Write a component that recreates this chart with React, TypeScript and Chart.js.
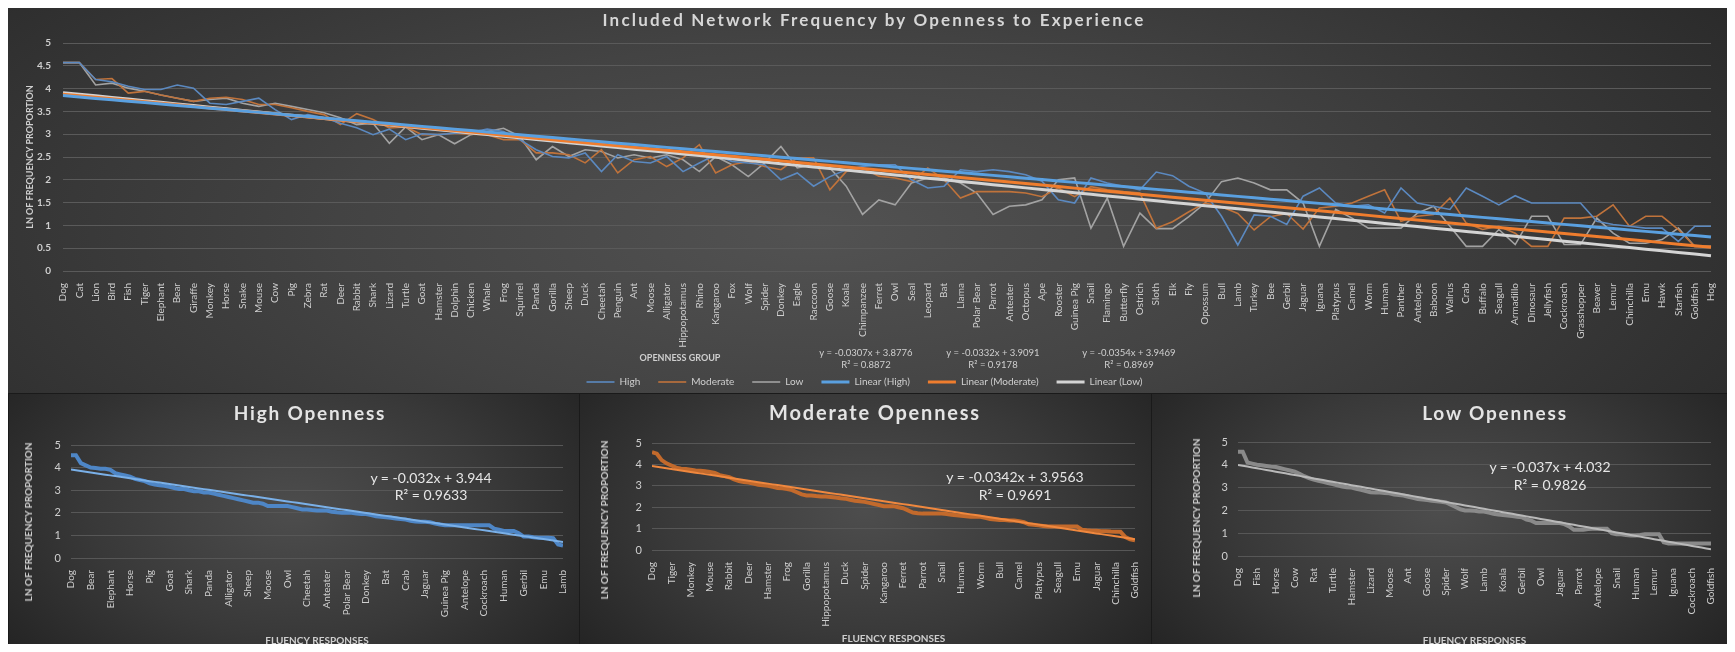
import React, { useEffect, useRef } from 'react';
import { Chart, registerables } from 'chart.js';

Chart.register(...registerables);

const FONT = 'Lato, "Liberation Sans", sans-serif';

// ---------------- Top chart data ----------------
const animals = ['Dog','Cat','Lion','Bird','Fish','Tiger','Elephant','Bear','Giraffe','Monkey','Horse','Snake','Mouse','Cow','Pig','Zebra','Rat','Deer','Rabbit','Shark','Lizard','Turtle','Goat','Hamster','Dolphin','Chicken','Whale','Frog','Squirrel','Panda','Gorilla','Sheep','Duck','Cheetah','Penguin','Ant','Moose','Alligator','Hippopotamus','Rhino','Kangaroo','Fox','Wolf','Spider','Donkey','Eagle','Raccoon','Goose','Koala','Chimpanzee','Ferret','Owl','Seal','Leopard','Bat','Llama','Polar Bear','Parrot','Anteater','Octopus','Ape','Rooster','Guinea Pig','Snail','Flamingo','Butterfly','Ostrich','Sloth','Elk','Fly','Opossum','Bull','Lamb','Turkey','Bee','Gerbil','Jaguar','Iguana','Platypus','Camel','Worm','Human','Panther','Antelope','Baboon','Walrus','Crab','Buffalo','Seagull','Armadillo','Dinosaur','Jellyfish','Cockroach','Grasshopper','Beaver','Lemur','Chinchilla','Emu','Hawk','Starfish','Goldfish','Hog'];

const highValues = [4.57,4.57,4.2,4.15,4.05,3.98,3.98,4.08,4.01,3.68,
  3.65,3.72,3.79,3.54,3.32,3.43,3.36,3.24,3.14,2.99,
  3.11,2.88,3.01,2.99,3.02,3.04,3.11,3.06,2.88,2.66,
  2.51,2.48,2.59,2.18,2.55,2.40,2.37,2.51,2.18,2.37,
  2.55,2.40,2.37,2.33,2.00,2.15,1.86,2.07,2.22,2.29,
  2.33,2.33,2.00,1.82,1.86,2.22,2.18,2.22,2.18,2.11,
  1.97,1.56,1.49,2.04,1.93,1.86,1.78,2.17,2.09,1.86,
  1.71,1.20,0.57,1.23,1.20,1.02,1.64,1.82,1.49,1.42,
  1.45,1.27,1.82,1.49,1.42,1.35,1.82,1.64,1.45,1.65,
  1.49,1.49,1.49,1.49,1.09,1.02,0.98,0.94,0.94,0.65,
  0.98,0.98];

const moderateValues = [4.57,4.57,4.2,4.22,3.9,3.94,3.86,3.79,3.72,3.79,
  3.81,3.76,3.65,3.65,3.58,3.50,3.43,3.21,3.45,3.32,
  3.14,3.16,2.99,2.99,3.02,3.0,2.99,2.88,2.88,2.59,
  2.59,2.55,2.37,2.66,2.15,2.44,2.51,2.29,2.48,2.77,
  2.15,2.33,2.40,2.29,2.22,2.48,2.48,1.78,2.18,2.26,
  2.08,2.04,1.96,2.26,2.00,1.60,1.74,1.74,1.74,1.71,
  1.63,1.82,1.63,1.85,1.78,1.74,1.71,0.94,1.08,1.30,
  1.49,1.41,1.26,0.90,1.19,1.26,0.92,1.38,1.42,1.49,
  1.64,1.78,1.09,1.20,1.24,1.60,1.05,0.91,0.98,0.83,
  0.54,0.54,1.16,1.16,1.20,1.45,0.98,1.20,1.20,0.91,
  0.54,0.54];

const lowValues = [4.57,4.57,4.08,4.12,4.01,3.94,3.86,3.79,3.72,3.76,
  3.79,3.68,3.61,3.68,3.61,3.54,3.47,3.36,3.21,3.24,
  2.80,3.16,2.88,2.99,2.79,2.99,3.06,3.13,2.95,2.44,
  2.73,2.51,2.66,2.62,2.48,2.55,2.48,2.55,2.44,2.18,
  2.51,2.33,2.07,2.37,2.73,2.26,2.33,2.26,1.86,1.24,
  1.56,1.45,1.93,2.04,2.04,1.93,1.71,1.24,1.42,1.45,
  1.56,2.00,2.04,0.94,1.60,0.54,1.27,0.93,0.93,1.19,
  1.49,1.96,2.04,1.93,1.78,1.78,1.49,0.54,1.35,1.16,
  0.94,0.94,0.94,1.27,1.42,0.98,0.54,0.54,0.91,0.58,
  1.20,1.20,0.58,0.58,1.16,0.83,0.61,0.61,0.69,0.94,
  0.54,0.54];

// Trendline coefficients shown on the chart
const highTrend = { slope: -0.0307, intercept: 3.8776, eq: 'y = -0.0307x + 3.8776', r2: 'R² = 0.8872' };
const moderateTrend = { slope: -0.0332, intercept: 3.9091, eq: 'y = -0.0332x + 3.9091', r2: 'R² = 0.9178' };
const lowTrend = { slope: -0.0354, intercept: 3.9469, eq: 'y = -0.0354x + 3.9469', r2: 'R² = 0.8969' };

const yTicks = [0, 0.5, 1, 1.5, 2, 2.5, 3, 3.5, 4, 4.5, 5];

// ---------------- Small charts data ----------------
const highSortedLabels = ['Dog','Bear','Elephant','Horse','Pig','Goat','Shark','Panda','Alligator','Sheep','Moose','Owl','Cheetah','Anteater','Polar Bear','Donkey','Bat','Crab','Jaguar','Guinea Pig','Antelope','Cockroach','Human','Gerbil','Emu','Lamb'];
const highSortedValues = [4.55,4.55,4.2,4.1,4.0,3.98,3.95,3.95,3.9,3.75,
  3.7,3.65,3.6,3.5,3.45,3.4,3.3,3.25,3.22,3.2,
  3.15,3.1,3.05,3.05,3.0,2.95,2.95,2.9,2.9,2.85,
  2.8,2.75,2.7,2.65,2.6,2.55,2.5,2.45,2.45,2.4,
  2.3,2.3,2.3,2.3,2.3,2.25,2.2,2.15,2.15,2.12,
  2.1,2.1,2.1,2.05,2.02,2.0,2.0,2.0,1.97,1.95,
  1.95,1.9,1.85,1.82,1.8,1.78,1.75,1.72,1.7,1.65,
  1.62,1.6,1.6,1.58,1.52,1.48,1.45,1.45,1.45,1.45,
  1.45,1.45,1.45,1.45,1.45,1.45,1.3,1.25,1.2,1.2,
  1.2,1.1,0.95,0.95,0.92,0.9,0.9,0.9,0.88,0.6,
  0.55];

const moderateSortedLabels = ['Dog','Tiger','Monkey','Mouse','Rabbit','Deer','Hamster','Frog','Gorilla','Hippopotamus','Duck','Spider','Kangaroo','Ferret','Parrot','Snail','Human','Worm','Bull','Camel','Platypus','Seagull','Emu','Jaguar','Chinchilla','Goldfish'];
const moderateSortedValues = [4.57,4.5,4.2,4.05,3.95,3.85,3.8,3.78,3.75,3.72,
  3.7,3.68,3.65,3.6,3.5,3.45,3.4,3.3,3.22,3.18,
  3.15,3.1,3.05,3.02,3.0,2.95,2.9,2.88,2.85,2.8,
  2.7,2.6,2.55,2.55,2.52,2.5,2.5,2.48,2.45,2.42,
  2.4,2.35,2.3,2.28,2.25,2.2,2.15,2.1,2.05,2.05,
  2.05,2.0,1.95,1.85,1.75,1.72,1.7,1.7,1.7,1.7,
  1.7,1.68,1.65,1.62,1.6,1.58,1.55,1.55,1.55,1.5,
  1.45,1.42,1.4,1.4,1.38,1.38,1.35,1.3,1.2,1.18,
  1.15,1.12,1.1,1.1,1.1,1.1,1.1,1.1,1.1,0.95,
  0.92,0.9,0.9,0.88,0.88,0.86,0.85,0.85,0.6,0.5,
  0.45];

const lowSortedLabels = ['Dog','Fish','Horse','Cow','Rat','Turtle','Hamster','Lizard','Moose','Ant','Goose','Spider','Wolf','Lamb','Koala','Gerbil','Owl','Jaguar','Parrot','Antelope','Snail','Human','Lemur','Iguana','Cockroach','Goldfish'];
const lowSortedValues = [4.57,4.57,4.1,4.05,4.0,3.98,3.95,3.92,3.9,3.85,
  3.8,3.75,3.7,3.6,3.5,3.42,3.35,3.3,3.25,3.2,
  3.15,3.1,3.05,3.02,3.0,2.95,2.9,2.85,2.8,2.78,
  2.78,2.76,2.75,2.7,2.68,2.65,2.6,2.55,2.5,2.48,
  2.45,2.42,2.4,2.38,2.35,2.25,2.15,2.05,2.0,2.0,
  1.98,1.95,1.95,1.9,1.85,1.82,1.8,1.78,1.75,1.72,
  1.7,1.6,1.55,1.45,1.45,1.45,1.45,1.45,1.45,1.4,
  1.3,1.15,1.15,1.15,1.18,1.2,1.2,1.2,1.2,1.0,
  0.95,0.95,0.92,0.9,0.9,0.92,0.95,0.95,0.95,0.95,
  0.6,0.55,0.55,0.55,0.55,0.55,0.55,0.55,0.55,0.55,
  0.55];

const highSmallTrend = { slope: -0.032, intercept: 3.944, eq: 'y = -0.032x + 3.944', r2: 'R² = 0.9633' };
const moderateSmallTrend = { slope: -0.0342, intercept: 3.9563, eq: 'y = -0.0342x + 3.9563', r2: 'R² = 0.9691' };
const lowSmallTrend = { slope: -0.037, intercept: 4.032, eq: 'y = -0.037x + 4.032', r2: 'R² = 0.9826' };

const LABEL_STEP = 4;

// ---------------- styling ----------------
const TOP_BG = 'radial-gradient(ellipse 62% 110% at 47% 58%, #525252 0%, #434343 45%, #2b2b2b 100%)';
const SMALL_BG = 'radial-gradient(ellipse 70% 95% at 50% 45%, #4d4d4d 0%, #393939 50%, #1f1f1f 100%)';
const TEXT = '#cfcfcf';
const GRID = '#5a5a5a';

const trendLine = (n: number, t: { slope: number; intercept: number }) =>
  Array.from({ length: n }, (_, i) => +(t.intercept + t.slope * (i + 1)).toFixed(4));

const Txt = ({ x, y, children, style }: any) => (
  <div style={{ position: 'absolute', left: x, top: y, transform: 'translate(-50%,-50%)', whiteSpace: 'nowrap', ...style }}>{children}</div>
);

function TopPanel() {
  const ref = useRef<HTMLCanvasElement>(null);
  useEffect(() => {
    const line = (label: string, data: number[], color: string, width: number, order: number) => ({
      label, data, borderColor: color, backgroundColor: color, borderWidth: width,
      pointRadius: 0, pointHoverRadius: 0, tension: 0, fill: false, order,
    });
    const chart = new Chart(ref.current!, {
      type: 'line',
      data: {
        labels: animals,
        datasets: [
          line('High', highValues, '#5b89c0', 1.6, 1),
          line('Moderate', moderateValues, '#c0733b', 1.6, 1),
          line('Low', lowValues, '#a3a3a3', 1.6, 1),
          line('Linear (High)', trendLine(animals.length, highTrend), '#5aa0e0', 3, 0),
          line('Linear (Moderate)', trendLine(animals.length, moderateTrend), '#ef7d2e', 3, 0),
          line('Linear (Low)', trendLine(animals.length, lowTrend), '#d4d4d4', 3, 0),
        ],
      },
      options: {
        responsive: false,
        animation: false,
        devicePixelRatio: 1,
        layout: { padding: { top: 35, right: 6, left: 0, bottom: 0 } },
        plugins: {
          tooltip: { enabled: false },
          title: { display: false },
          legend: {
            position: 'bottom',
            labels: {
              color: TEXT,
              font: { family: FONT, size: 10 },
              usePointStyle: true,
              pointStyle: 'line',
              pointStyleWidth: 28,
              padding: 18,
              sort: (a: any, b: any) => a.datasetIndex - b.datasetIndex,
            },
          },
        },
        scales: {
          x: {
            grid: { display: false },
            border: { display: false },
            ticks: { color: TEXT, font: { family: FONT, size: 10 }, autoSkip: false, maxRotation: 90, minRotation: 90, padding: 4 },
            afterFit: (s: any) => { s.height = 88; },
          },
          y: {
            min: 0, max: 5,
            afterBuildTicks: (s: any) => { s.ticks = yTicks.map((v) => ({ value: v })); },
            ticks: { color: TEXT, font: { family: FONT, size: 10, weight: 'bold' }, padding: 12, callback: (v: any) => String(v) },
            grid: { color: GRID, drawTicks: false },
            border: { display: false },
            title: { display: true, text: 'LN OF FREQUENCY PROPORTION', color: TEXT, font: { family: FONT, size: 9, weight: 'bold' }, padding: { top: 17, bottom: 0 } },
            afterFit: (s: any) => { s.width = 55; },
          },
        },
      } as any,
    });
    return () => chart.destroy();
  }, []);
  const eqStyle = { color: TEXT, fontSize: 9.5, fontFamily: FONT };
  const trends = [
    { t: highTrend, x: 858 },
    { t: moderateTrend, x: 985 },
    { t: lowTrend, x: 1121 },
  ];
  return (
    <div style={{ position: 'absolute', left: 0, top: 0, width: 1719, height: 385, background: TOP_BG }}>
      <canvas ref={ref} width={1719} height={389} style={{ position: 'absolute', left: 0, top: 0 }} />
      <Txt x={866} y={11} style={{ color: '#d6d6d6', fontSize: 17, fontWeight: 700, letterSpacing: 2.2, fontFamily: FONT }}>
        Included Network Frequency by Openness to Experience
      </Txt>
      <Txt x={672} y={349} style={{ color: TEXT, fontSize: 9, fontWeight: 700, fontFamily: FONT }}>OPENNESS GROUP</Txt>
      {trends.map((d) => (
        <React.Fragment key={d.t.eq}>
          <Txt x={d.x} y={344} style={eqStyle}>{d.t.eq}</Txt>
          <Txt x={d.x} y={356} style={eqStyle}>{d.t.r2}</Txt>
        </React.Fragment>
      ))}
    </div>
  );
}

type SmallProps = {
  left: number; width: number;
  title: string; titleX: number; titleSize: number;
  labels: string[]; values: number[];
  trend: { slope: number; intercept: number; eq: string; r2: string };
  dataColor: string; trendColor: string;
  plotLeft: number; plotTop: number; plotBottom: number; rightPad: number; axisTitlePad: number;
  yTitleX: number; yTitleY: number;
  eqX: number; eqY: number; r2Y: number;
};

function SmallPanel(p: SmallProps) {
  const ref = useRef<HTMLCanvasElement>(null);
  const H = 262;
  useEffect(() => {
    const pts = p.values.map((v, i) => ({ x: i + 1, y: v }));
    const trendPts = trendLine(p.values.length, p.trend).map((v, i) => ({ x: i + 1, y: v }));
    const n = p.values.length;
    const chart = new Chart(ref.current!, {
      type: 'line',
      data: {
        datasets: [
          { label: 'Linear', data: trendPts, borderColor: p.trendColor, borderWidth: 2, pointRadius: 0, tension: 0, fill: false, order: 0 },
          { label: 'Data', data: pts, borderColor: p.dataColor, borderWidth: 4, pointRadius: 0, tension: 0, fill: false, order: 1 },
        ],
      },
      options: {
        responsive: false,
        animation: false,
        devicePixelRatio: 1,
        layout: { padding: { top: p.plotTop, right: p.rightPad, left: 0, bottom: 0 } },
        plugins: { legend: { display: false }, tooltip: { enabled: false }, title: { display: false } },
        scales: {
          x: {
            type: 'linear', min: 1, max: n,
            afterBuildTicks: (s: any) => { s.ticks = p.labels.map((_, k) => ({ value: 1 + LABEL_STEP * k })); },
            grid: { display: false },
            border: { display: false },
            ticks: {
              color: TEXT, font: { family: FONT, size: 10 }, autoSkip: false, maxRotation: 90, minRotation: 90, padding: 4,
              callback: (v: any) => p.labels[Math.round((v - 1) / LABEL_STEP)] ?? '',
            },
            title: { display: true, text: 'FLUENCY RESPONSES', color: TEXT, font: { family: FONT, size: 10, weight: 'bold' }, padding: { top: 0, bottom: p.axisTitlePad } },
            afterFit: (s: any) => { s.height = H - p.plotBottom; },
          },
          y: {
            min: 0, max: 5,
            afterBuildTicks: (s: any) => { s.ticks = yTicks.map((v) => ({ value: v })); },
            ticks: { color: TEXT, font: { family: FONT, size: 11 }, padding: 10, callback: (v: any) => String(v) },
            grid: { color: '#575757', drawTicks: false },
            border: { display: false },
            afterFit: (s: any) => { s.width = p.plotLeft; },
          },
        },
      } as any,
    });
    return () => chart.destroy();
  }, []);
  return (
    <div style={{ position: 'absolute', left: p.left, top: 385, width: p.width, height: H, background: SMALL_BG, borderLeft: '1px solid #1a1a1a', borderTop: '1px solid #1a1a1a', boxSizing: 'border-box' }}>
      <canvas ref={ref} width={p.width} height={H} style={{ position: 'absolute', left: -1, top: -1 }} />
      <Txt x={p.titleX} y={18} style={{ color: '#e4e4e4', fontSize: p.titleSize, fontWeight: 700, letterSpacing: 1.8, fontFamily: FONT }}>{p.title}</Txt>
      <Txt x={p.yTitleX} y={p.yTitleY} style={{ color: TEXT, fontSize: 10, fontWeight: 700, fontFamily: FONT, transform: 'translate(-50%,-50%) rotate(-90deg)' }}>LN OF FREQUENCY PROPORTION</Txt>
      <Txt x={p.eqX} y={p.eqY} style={{ color: '#e6e6e6', fontSize: 14, fontFamily: FONT }}>{p.trend.eq}</Txt>
      <Txt x={p.eqX} y={p.r2Y} style={{ color: '#e6e6e6', fontSize: 14, fontFamily: FONT }}>{p.trend.r2}</Txt>
    </div>
  );
}

export default function App() {
  useEffect(() => {
    document.documentElement.style.overflow = 'hidden';
    document.body.style.overflow = 'hidden';
  }, []);
  return (
    <div style={{ position: 'relative', width: 1719, height: 636, fontFamily: FONT }}>
      <TopPanel />
      <SmallPanel left={0} width={571} title="High Openness" titleX={301} titleSize={19}
        labels={highSortedLabels} values={highSortedValues} trend={highSmallTrend}
        dataColor="#4e86c6" trendColor="#7ab0e8"
        plotLeft={63} plotTop={52} plotBottom={165} rightPad={10} axisTitlePad={8}
        yTitleX={19} yTitleY={128} eqX={422} eqY={83} r2Y={100} />
      <SmallPanel left={571} width={572} title="Moderate Openness" titleX={295} titleSize={20}
        labels={moderateSortedLabels} values={moderateSortedValues} trend={moderateSmallTrend}
        dataColor="#c36a2c" trendColor="#f0883e"
        plotLeft={73} plotTop={50} plotBottom={157} rightPad={8} axisTitlePad={10}
        yTitleX={24} yTitleY={126} eqX={435} eqY={82} r2Y={100} />
      <SmallPanel left={1143} width={576} title="Low Openness" titleX={343} titleSize={19}
        labels={lowSortedLabels} values={lowSortedValues} trend={lowSmallTrend}
        dataColor="#8a8a8a" trendColor="#b9b9b9"
        plotLeft={87} plotTop={49} plotBottom={163} rightPad={14} axisTitlePad={8}
        yTitleX={44} yTitleY={124} eqX={398} eqY={72} r2Y={90} />
    </div>
  );
}
